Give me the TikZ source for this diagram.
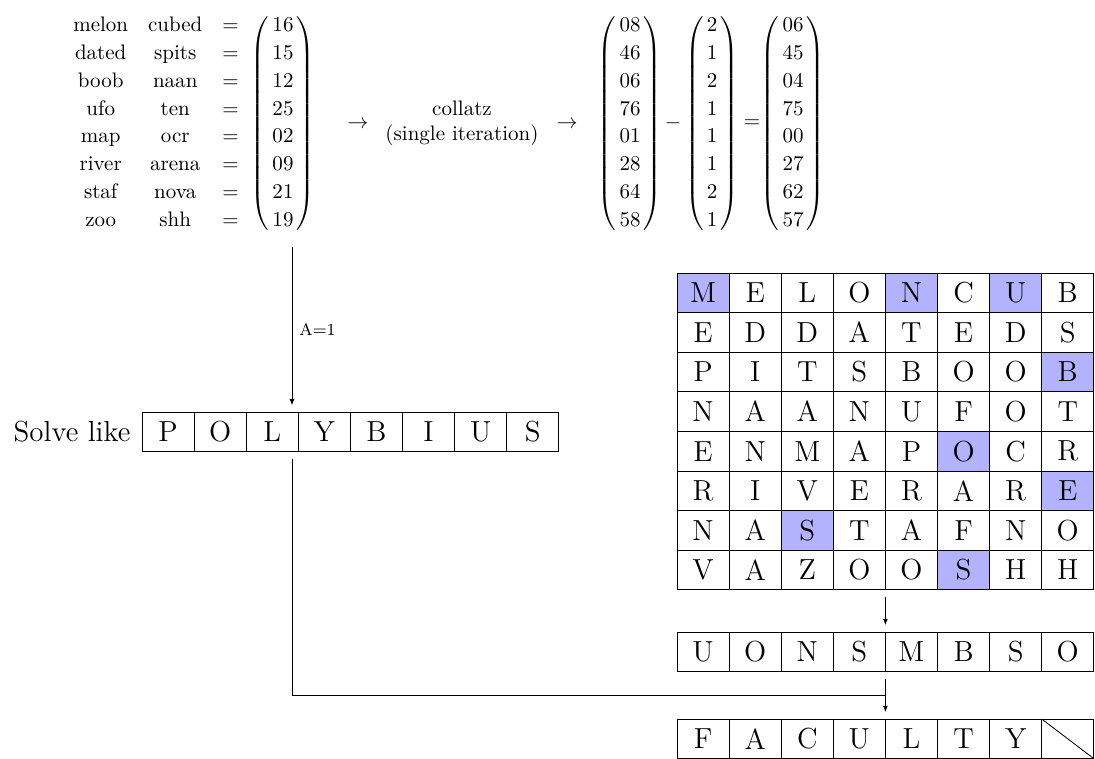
\documentclass[tikz,border=0pt]{standalone}
\usepackage{amsmath,amssymb}
\usepackage{tikz}
\usetikzlibrary{positioning,arrows.meta,backgrounds,calc}
\renewcommand{\arraystretch}{1.1}
\newcommand{\colvec}[1]{\left(\arraycolsep=1.6pt\begin{array}{c}#1\end{array}\right)}

\tikzset{
  cell/.style={draw, inner sep=0pt, outer sep=0pt, minimum width=24.8pt, minimum height=18.85pt, font=\fontsize{13.8}{16}\selectfont},
  hl/.style={fill=blue!30},
  arr/.style={-{Latex[length=3pt,width=2.4pt]}, shorten <=3.3pt, shorten >=3.3pt},
}

\begin{document}
\begin{tikzpicture}[x=0.476pt, y=-0.476pt]
\useasboundingbox (0,0) rectangle (1095,759);

% words -> numbers
\node[inner sep=0pt] (words) at (156,123.5) {\begin{tabular}{@{}c@{\hspace{9.5pt}}c@{\hspace{9.5pt}}c@{}}
  melon & cubed & $=$\\ dated & spits & $=$\\ boob & naan & $=$\\ ufo & ten & $=$\\
  map & ocr & $=$\\ river & arena & $=$\\ staf & nova & $=$\\ zoo & shh & $=$
  \end{tabular}};
\node[inner sep=0pt] (codes) at (283,123.5) {$\colvec{16\\15\\12\\25\\02\\09\\21\\19}$};

% collatz step
\node (ar1) at (358,125) {$\rightarrow$};
\node[align=center] (coll) at (462,123) {collatz\\(single iteration)};
\node (ar2) at (567,125) {$\rightarrow$};
\node[inner sep=0pt] (m1) at (630,123.5) {$\colvec{08\\46\\06\\76\\01\\28\\64\\58}$};
\node (minus) at (673,123.5) {$-$};
\node[inner sep=0pt] (m2) at (712,123.5) {$\colvec{2\\1\\2\\1\\1\\1\\2\\1}$};
\node (eq) at (752,123.5) {$=$};
\node[inner sep=0pt] (m3) at (793,123.5) {$\colvec{06\\45\\04\\75\\00\\27\\62\\57}$};

% polybius row
\foreach \ch [count=\c] in {P,O,L,Y,B,I,U,S}
  \node[cell] (p-\c) at ({142+52.1*(\c-0.5)},432) {\ch};
\node[left=2pt of p-1, font=\fontsize{13.8}{16}\selectfont] (solve) {Solve like};

% square
\foreach \row [count=\r] in {{M,E,L,O,N,C,U,B},{E,D,D,A,T,E,D,S},{P,I,T,S,B,O,O,B},{N,A,A,N,U,F,O,T},
    {E,N,M,A,P,O,C,R},{R,I,V,E,R,A,R,E},{N,A,S,T,A,F,N,O},{V,A,Z,O,O,S,H,H}}
  \foreach \ch [count=\c] in \row
    \node[cell] (g-\r-\c) at ({677+52.1*(\c-0.5)},{273+39.6*(\r-0.5)}) {\ch};
\begin{scope}[on background layer]
\foreach \r/\c in {1/1,1/5,1/7,3/8,5/6,6/8,7/3,8/6}
  \fill[hl] (g-\r-\c.north west) rectangle (g-\r-\c.south east);
\end{scope}

% read off + result
\foreach \ch [count=\c] in {U,O,N,S,M,B,S,O}
  \node[cell] (u-\c) at ({677+52.1*(\c-0.5)},651.8) {\ch};
\foreach \ch [count=\c] in {F,A,C,U,L,T,Y,{}}
  \node[cell] (f-\c) at ({677+52.1*(\c-0.5)},738.8) {\ch};
\draw (f-8.north west) -- (f-8.south east);

% arrows
\coordinate (drop) at (292,247);
\draw[arr, shorten <=0pt] (drop) -- node[right, font=\footnotesize] (alab) {A=1} (drop |- p-4.north);
\draw[arr] (g-8-4.south east) -- (u-4.north east);
\draw[arr] (u-4.south east) -- (f-4.north east);
\coordinate (join) at ($(u-4.south east)!0.5!(f-4.north east)$);
\draw[shorten <=3.3pt] (drop |- p-4.south) |- (join);
\end{tikzpicture}
\end{document}
